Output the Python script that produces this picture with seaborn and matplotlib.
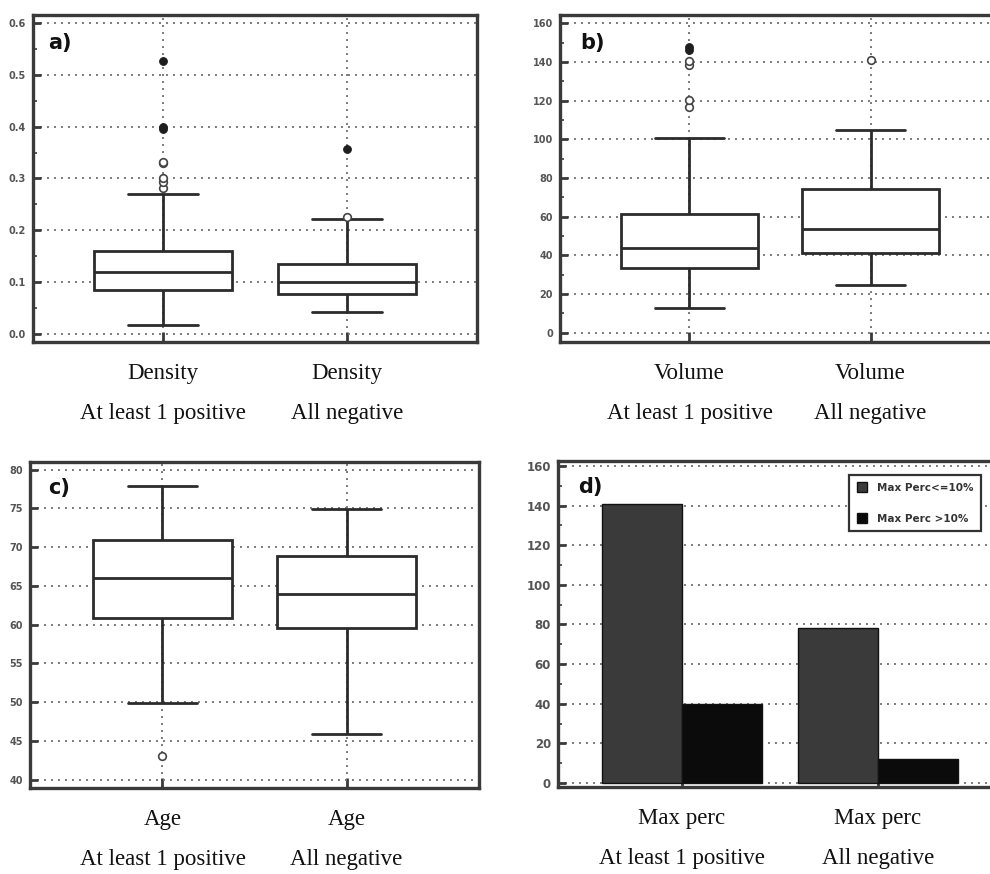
import numpy as np
import pandas as pd
import matplotlib
matplotlib.use("Agg")
import matplotlib.pyplot as plt
from matplotlib.ticker import MultipleLocator, FixedLocator
import seaborn as sns

# ---------------- data ----------------
groups = ["At least 1 positive", "All negative"]

# five-number summaries: [lower whisker, Q1, median, Q3, upper whisker]
density_pos = [0.016, 0.084, 0.119, 0.159, 0.269]
density_neg = [0.041, 0.077, 0.100, 0.135, 0.221]
density_pos_out = [0.281, 0.294, 0.300, 0.329, 0.332]   # open circles
density_pos_far = [0.395, 0.400, 0.527]                 # filled circles
density_neg_out = [0.225]
density_neg_far = [0.357]

volume_pos = [12.5, 33.5, 43.5, 61.5, 100.5]
volume_neg = [24.5, 41.0, 53.8, 74.3, 104.6]
volume_pos_out = [116.8, 120.3, 138.4, 140.5]
volume_pos_far = [146.2, 147.9]
volume_neg_out = [141.0]
volume_neg_far = []

age_pos = [49.9, 60.9, 66.0, 70.9, 77.9]
age_neg = [45.9, 59.6, 63.9, 68.9, 74.9]
age_pos_out = [43.0]
age_neg_out = []

bar_series = ["Max Perc<=10%", "Max Perc >10%"]
maxperc_le10 = [141, 78]
maxperc_gt10 = [40, 12]

density_ticks = [0.0, 0.1, 0.2, 0.3, 0.4, 0.5, 0.6]
density_ticklabels = ["0.0", "0.1", "0.2", "0.3", "0.4", "0.5", "0.6"]
volume_ticks = [0, 20, 40, 60, 80, 100, 120, 140, 160]
age_ticks = [40, 45, 50, 55, 60, 65, 70, 75, 80]
count_ticks = [0, 20, 40, 60, 80, 100, 120, 140, 160]

# ---------------- style ----------------
sns.set_style("ticks")
plt.rcParams["font.family"] = ["DejaVu Sans"]

SPINE = "#3a3a3a"
GRID = "#7a7a7a"
SERIF = ["Liberation Serif", "DejaVu Serif"]

fig = plt.figure(figsize=(9.9, 8.74), dpi=100)
W, H = 990, 874


def add_ax(left, top, right, bottom):
    return fig.add_axes([left / W, (H - bottom) / H, (right - left) / W, (bottom - top) / H])


ax_a = add_ax(33, 15, 477, 342)
ax_b = add_ax(560, 15, 1000, 342)
ax_c = add_ax(30, 462, 479, 788)
ax_d = add_ax(558, 461, 1002, 787)


def style_axes(ax, ticks, ticklabels, minor, ylim, xlim, name, letter, letter_dx, letter_dy,
               ytick_size=7, xgrid=True):
    ax.set_ylim(*ylim)
    ax.set_xlim(*xlim)
    ax.yaxis.set_major_locator(FixedLocator(ticks))
    ax.set_yticklabels(ticklabels)
    if minor:
        ax.yaxis.set_minor_locator(MultipleLocator(minor))
    ax.set_xticks([0, 1])
    ax.set_xticklabels([f"{name}\n{g}" for g in groups], fontsize=16.5, family=SERIF,
                       linespacing=2.2, color="#111111")
    ax.tick_params(axis="x", direction="in", length=7, width=2, pad=15, color=SPINE)
    ax.tick_params(axis="y", which="major", direction="in", length=6, width=2, pad=5,
                   labelsize=ytick_size, labelcolor="#555555", color=SPINE)
    ax.tick_params(axis="y", which="minor", direction="in", length=3, width=1.2, color=SPINE)
    for lab in ax.get_yticklabels():
        lab.set_fontweight("bold")
    ax.set_axisbelow(True)
    ax.yaxis.grid(True, which="major", linestyle=(0, (1, 2.6)), color=GRID, linewidth=1.4)
    if xgrid:
        ax.xaxis.grid(True, which="major", linestyle=(0, (1, 2.6)), color=GRID, linewidth=1.4)
    for sp in ax.spines.values():
        sp.set_visible(True)
        sp.set_color(SPINE)
        sp.set_linewidth(2.4)
    ax.set_xlabel("")
    ax.set_ylabel("")
    ax.text(letter_dx, letter_dy, letter, transform=ax.transAxes, fontsize=15,
            fontweight="bold", ha="left", va="top", color="#111111")


def box_panel(ax, pos, neg, pos_out, neg_out, pos_far, neg_far):
    df = pd.DataFrame({
        "group": [groups[0]] * len(pos) + [groups[1]] * len(neg),
        "value": pos + neg,
    })
    sns.boxplot(data=df, x="group", y="value", order=groups, width=0.755,
                color="white", linecolor="#2b2b2b", linewidth=2.0,
                showfliers=False, whis=1.5, ax=ax)
    open_x = [groups[0]] * len(pos_out) + [groups[1]] * len(neg_out)
    open_y = pos_out + neg_out
    if open_y:
        sns.stripplot(x=open_x, y=open_y, order=groups, jitter=False, color="white",
                      edgecolor="#444444", linewidth=1.2, size=5.5, ax=ax, zorder=4)
    far_x = [groups[0]] * len(pos_far) + [groups[1]] * len(neg_far)
    far_y = pos_far + neg_far
    if far_y:
        sns.stripplot(x=far_x, y=far_y, order=groups, jitter=False, color="#1e1e1e",
                      edgecolor="#1e1e1e", linewidth=0.8, size=5.5, ax=ax, zorder=5)


# ---------------- panel a ----------------
box_panel(ax_a, density_pos, density_neg, density_pos_out, density_neg_out,
          density_pos_far, density_neg_far)
style_axes(ax_a, density_ticks, density_ticklabels, 0.05, (-0.0163, 0.616), (-0.707, 1.707),
           "Density", "a)", 0.034, 0.945)

# ---------------- panel b ----------------
box_panel(ax_b, volume_pos, volume_neg, volume_pos_out, volume_neg_out,
          volume_pos_far, volume_neg_far)
style_axes(ax_b, volume_ticks, [str(t) for t in volume_ticks], 10, (-4.9, 164.3),
           (-0.715, 1.715), "Volume", "b)", 0.045, 0.945)

# ---------------- panel c ----------------
box_panel(ax_c, age_pos, age_neg, age_pos_out, age_neg_out, [], [])
style_axes(ax_c, age_ticks, [str(t) for t in age_ticks], None, (38.93, 80.98),
           (-0.72, 1.72), "Age", "c)", 0.04, 0.95)

# ---------------- panel d ----------------
bar_df = pd.DataFrame({
    "group": groups * 2,
    "series": [bar_series[0]] * 2 + [bar_series[1]] * 2,
    "count": maxperc_le10 + maxperc_gt10,
})
sns.barplot(data=bar_df, x="group", y="count", hue="series", order=groups,
            hue_order=bar_series, palette=["#3a3a3a", "#0b0b0b"], saturation=1,
            width=0.82, gap=0, edgecolor="#111111", linewidth=1.0, ax=ax_d)
style_axes(ax_d, count_ticks, [str(t) for t in count_ticks], 10, (-2.0, 162.5),
           (-0.633, 1.633), "Max perc", "d)", 0.045, 0.95, ytick_size=8.5, xgrid=False)
handles, labels = ax_d.get_legend_handles_labels()
leg = ax_d.legend(handles, labels, loc="upper right", bbox_to_anchor=(0.953, 0.957),
                  frameon=True, fancybox=False, edgecolor="#333333", framealpha=1,
                  prop={"size": 7.5, "weight": "bold"}, handlelength=1.0, handleheight=1.0,
                  handletextpad=1.0, labelspacing=2.0, borderpad=0.7, borderaxespad=0)
leg.get_frame().set_linewidth(1.6)
for t in leg.get_texts():
    t.set_color("#333333")

fig.savefig("out.png", dpi=100)
